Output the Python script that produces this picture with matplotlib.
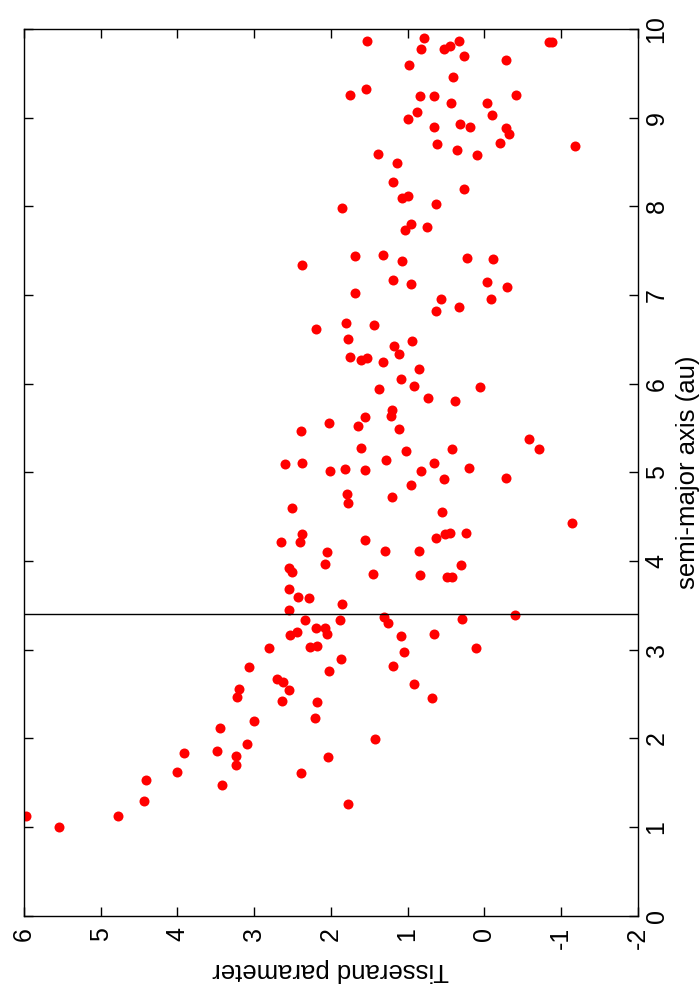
import matplotlib
matplotlib.use("Agg")
import matplotlib.pyplot as plt

plt.rcParams['font.family'] = ['Liberation Sans', 'DejaVu Sans']

tisserand = [
    1.53, 0.79, 0.83, 0.52, 0.45, 0.33, 0.26, -0.28, -0.85, -0.89, 0.98, 0.41, 1.75, 1.54,
    0.84, 0.66, 0.43, -0.03, -0.42, 0.88, 1.00, -0.10, 0.65, 0.32, 0.19, -0.29, -0.32, 0.61,
    0.36, -0.20, -1.18, 0.10, 1.39, 1.14, 1.19, 0.26, 1.07, 1.00, 0.63, 1.85, 0.96, 1.03,
    0.74, 1.68, 1.32, 1.07, 0.22, -0.11, 2.37, 1.19, 0.95, -0.03, -0.30, 1.68, 0.56, -0.09,
    0.63, 0.33, 2.19, 1.80, 1.78, 1.44, 1.17, 0.94,
    1.75, 1.60, 1.53, 1.32, 1.11, 0.85, 1.08, 0.92, 1.37, 0.73, 0.38, 0.06, 1.20, 1.22,
    2.02, 1.64, 1.55, 1.11, 2.39, 1.60, 1.02, 0.42, -0.58, -0.72, 1.28, 2.01, 1.82, 1.55,
    0.83, 0.66, 0.20, 0.53, -0.29, 0.95, 1.79, 1.78, 1.20, 0.55, -1.15, 2.37, 2.40, 2.65,
    1.56, 0.63, 0.51, 0.45, 0.24, 2.05, 1.29, 0.85, 2.08, 0.30, 1.45, 0.84, 0.49, 0.42,
    2.43, 2.54, 2.28, 1.86, -0.40, 0.29, 2.34, 1.88, 1.31, 1.26, 2.19, 2.08, 2.05, 2.44,
    2.53, 0.65, 1.09, 2.27, 2.18, 1.04, 0.11, 1.87, 2.02, 1.19, 0.91, 0.68, 2.60, 2.38,
    2.51, 2.54, 2.51, 2.54, 2.80, 3.06, 2.70, 2.62, 3.20, 3.22, 2.54, 2.63, 2.18,
    2.20, 3.00, 3.44, 3.49, 3.09, 3.23, 3.23, 2.04, 2.39, 3.92, 4.01, 3.42, 4.41, 4.44,
    4.78, 5.54, 5.97, 1.78, 1.43,
]

semimajor = [
    9.86, 9.90, 9.78, 9.77, 9.81, 9.86, 9.70, 9.65, 9.85, 9.85, 9.59, 9.46, 9.26, 9.32,
    9.24, 9.25, 9.16, 9.17, 9.26, 9.06, 8.99, 9.03, 8.89, 8.93, 8.89, 8.88, 8.82, 8.70,
    8.63, 8.71, 8.68, 8.58, 8.59, 8.49, 8.27, 8.20, 8.09, 8.12, 8.03, 7.98, 7.80, 7.73,
    7.77, 7.44, 7.45, 7.38, 7.42, 7.41, 7.34, 7.17, 7.12, 7.15, 7.09, 7.02, 6.95, 6.95,
    6.82, 6.86, 6.62, 6.68, 6.50, 6.66, 6.43, 6.48,
    6.30, 6.27, 6.29, 6.24, 6.33, 6.16, 6.05, 5.97, 5.94, 5.84, 5.81, 5.96, 5.70, 5.64,
    5.56, 5.52, 5.62, 5.49, 5.47, 5.27, 5.24, 5.26, 5.38, 5.26, 5.14, 5.01, 5.04, 5.03,
    5.02, 5.10, 5.05, 4.92, 4.94, 4.86, 4.76, 4.65, 4.72, 4.55, 4.43, 4.30, 4.21, 4.21,
    4.24, 4.26, 4.31, 4.32, 4.32, 4.10, 4.11, 4.11, 3.97, 3.96, 3.85, 3.84, 3.82, 3.82,
    3.59, 3.69, 3.58, 3.52, 3.39, 3.35, 3.33, 3.33, 3.37, 3.30, 3.25, 3.24, 3.18, 3.20,
    3.17, 3.18, 3.15, 3.03, 3.04, 2.97, 3.02, 2.89, 2.76, 2.82, 2.61, 2.46, 5.09, 5.11,
    4.60, 3.92, 3.88, 3.45, 3.02, 2.80, 2.67, 2.64, 2.56, 2.47, 2.55, 2.42, 2.41,
    2.23, 2.20, 2.12, 1.86, 1.94, 1.80, 1.70, 1.79, 1.61, 1.83, 1.62, 1.47, 1.53, 1.29,
    1.12, 1.00, 1.12, 1.26, 1.99,
]

t_ticks = [6, 5, 4, 3, 2, 1, 0, -1, -2]
a_ticks = [0, 1, 2, 3, 4, 5, 6, 7, 8, 9, 10]
a_line = 3.4

fig = plt.figure(figsize=(7, 10), dpi=100)
ax = fig.add_axes([24 / 700, 1 - 915.7 / 1000, (637.6 - 24) / 700, (915.7 - 29) / 1000])

ax.plot(tisserand, semimajor, 'o', color='#ff0000', markersize=7.2, markeredgewidth=0,
        linestyle='none')
ax.axhline(a_line, color='black', linewidth=1.0)

ax.set_xlim(6, -2)
ax.set_ylim(0, 10)
ax.set_xticks(t_ticks)
ax.set_xticklabels([str(t) for t in t_ticks])
ax.set_yticks(a_ticks)
ax.set_yticklabels([str(a) for a in a_ticks])

ax.tick_params(axis='both', direction='in', length=6.5, width=1.0, labelsize=18,
               top=True, right=True)
ax.tick_params(axis='x', pad=8, labelrotation=90)
ax.tick_params(axis='y', pad=5, labelleft=False, labelright=True, labelrotation=90)
for lab in ax.get_yticklabels():
    lab.set_verticalalignment('center')

for s in ax.spines.values():
    s.set_linewidth(1.0)

fig.text(330.8 / 700, 1 - 970 / 1000, 'Tisserand parameter', rotation=180,
         ha='center', va='center', fontsize=18.5)
fig.text(688 / 700, 1 - 472 / 1000, 'semi-major axis (au)', rotation=90,
         ha='center', va='center', fontsize=18.5)

fig.savefig('out.png', dpi=100)
